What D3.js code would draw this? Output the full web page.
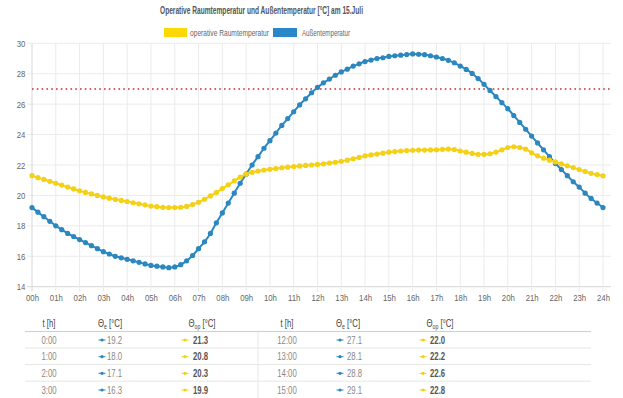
<!DOCTYPE html>
<html>
<head>
<meta charset="utf-8">
<script src="https://cdn.jsdelivr.net/npm/d3@7"></script>
<style>
  body { margin: 0; background: #fff; }
  svg { display: block; font-family: "Liberation Sans", Arial, sans-serif; }
</style>
</head>
<body>
<svg id="chart"></svg>
<script>
// quarter-hour steps 0 .. 24 h
const quarterHours = d3.range(0, 97).map((i) => i / 4);

const thetaE = [
  19.2, 18.9, 18.6, 18.3,
  18.0, 17.75, 17.5, 17.3,
  17.1, 16.9, 16.7, 16.5,
  16.3, 16.15, 16.0, 15.9,
  15.8, 15.7, 15.6, 15.5,
  15.4, 15.35, 15.3, 15.25,
  15.3, 15.45, 15.7, 16.05,
  16.5, 16.95, 17.5, 18.2,
  18.85, 19.5, 20.15, 20.8,
  21.4, 22.0, 22.55, 23.1,
  23.6, 24.1, 24.6, 25.05,
  25.5, 25.95, 26.35, 26.75,
  27.1, 27.4, 27.65, 27.9,
  28.12, 28.3, 28.5, 28.65,
  28.8, 28.9, 29.0, 29.05,
  29.14, 29.18, 29.22, 29.26,
  29.3, 29.28, 29.25, 29.18,
  29.1, 29.0, 28.88, 28.72,
  28.5, 28.28, 28.02, 27.68,
  27.3, 26.9, 26.5, 26.1,
  25.7, 25.25, 24.8, 24.35,
  23.9, 23.45, 23.0, 22.55,
  22.1, 21.7, 21.3, 20.9,
  20.55, 20.15, 19.8, 19.5,
  19.2
];

const thetaOp = [
  21.3, 21.17, 21.05, 20.93,
  20.8, 20.68, 20.55, 20.43,
  20.3, 20.2, 20.1, 20.0,
  19.9, 19.82, 19.74, 19.67,
  19.6, 19.52, 19.45, 19.38,
  19.3, 19.26, 19.22, 19.2,
  19.2, 19.22, 19.28, 19.4,
  19.55, 19.75, 19.97, 20.2,
  20.45, 20.7, 20.95, 21.2,
  21.4, 21.52, 21.6, 21.67,
  21.72, 21.77, 21.82, 21.86,
  21.9, 21.94, 21.97, 22.0,
  22.04, 22.08, 22.13, 22.18,
  22.24, 22.32, 22.41, 22.5,
  22.6, 22.66, 22.72, 22.78,
  22.84, 22.88, 22.92, 22.95,
  22.97, 22.98, 22.98, 22.99,
  23.0, 23.03, 23.05, 23.02,
  22.92, 22.84, 22.76, 22.7,
  22.7, 22.74, 22.85, 23.0,
  23.15, 23.2, 23.15, 23.05,
  22.8, 22.6, 22.45, 22.32,
  22.2, 22.07, 21.95, 21.83,
  21.7, 21.58, 21.45, 21.37,
  21.29
];

const yTicks = [14, 16, 18, 20, 22, 24, 26, 28, 30];
const xTicks = d3.range(0, 25);
const comfortLimit = 27;
const tableHoursLeft = [0, 1, 2, 3];
const tableHoursRight = [12, 13, 14, 15];

const colorE = "#2b87c0";
const colorOp = "#f4d116";

const svg = d3.select("#chart").attr("width", 623).attr("height", 398);

const x = d3.scaleLinear().domain([0, 24]).range([32, 603]);
const y = d3.scaleLinear().domain([14, 30]).range([286.7, 43.3]);
const gridRight = 611;

// title
svg.append("text")
  .attr("x", 261.5).attr("y", 13.5)
  .attr("text-anchor", "middle")
  .attr("textLength", 203).attr("lengthAdjust", "spacingAndGlyphs")
  .style("font-size", "10px").style("font-weight", "bold").style("fill", "#555")
  .text("Operative Raumtemperatur und Außentemperatur [°C] am 15.Juli");

// legend
const legendItems = [
  { label: "operative Raumtemperatur", color: "#fcd804", bx: 164, bw: 23, tx: 190, tw: 79 },
  { label: "Außentemperatur", color: "#2a88c8", bx: 273, bw: 24, tx: 302, tw: 48 }
];
legendItems.forEach((d) => {
  svg.append("rect")
    .attr("x", d.bx).attr("y", 28).attr("width", d.bw).attr("height", 9)
    .attr("fill", d.color);
  svg.append("text")
    .attr("x", d.tx).attr("y", 36)
    .attr("textLength", d.tw).attr("lengthAdjust", "spacingAndGlyphs")
    .style("font-size", "9.5px").style("fill", "#666")
    .text(d.label);
});

// grid
const grid = svg.append("g");
grid.selectAll(".hgrid")
  .data(yTicks)
  .enter()
  .append("line")
  .attr("x1", 27).attr("x2", gridRight)
  .attr("y1", (d) => y(d)).attr("y2", (d) => y(d))
  .attr("stroke", (d) => (d === 14 ? "#d6d6d6" : "#ebebeb"))
  .attr("stroke-width", 1);
grid.selectAll(".vgrid")
  .data(xTicks)
  .enter()
  .append("line")
  .attr("x1", (d) => x(d)).attr("x2", (d) => x(d))
  .attr("y1", 43.3).attr("y2", 291.7)
  .attr("stroke", (d) => (d === 0 ? "#d6d6d6" : "#ebebeb"))
  .attr("stroke-width", 1);

// axes (labels only, gridlines drawn above)
const yAxis = svg.append("g")
  .attr("transform", "translate(32,0)")
  .call(d3.axisLeft(y).tickValues(yTicks).tickSize(0).tickPadding(8));
yAxis.select(".domain").remove();
yAxis.selectAll("text")
  .attr("transform", "scale(0.82,1)")
  .style("font-size", "9.5px").style("fill", "#666")
  .style("font-family", "'Liberation Sans', Arial, sans-serif");

const xAxis = svg.append("g")
  .attr("transform", "translate(0,286.7)")
  .call(d3.axisBottom(x).tickValues(xTicks).tickSize(0)
    .tickPadding(8).tickFormat((d) => String(d).padStart(2, "0") + "h"));
xAxis.select(".domain").remove();
xAxis.selectAll("text")
  .attr("transform", "scale(0.82,1)")
  .style("font-size", "9.5px").style("fill", "#666")
  .style("font-family", "'Liberation Sans', Arial, sans-serif");

// 27 °C limit
svg.append("line")
  .attr("x1", x(0)).attr("x2", gridRight)
  .attr("y1", y(comfortLimit)).attr("y2", y(comfortLimit))
  .attr("stroke", "#c9302c").attr("stroke-width", 1.4)
  .attr("stroke-dasharray", "1.6,3.2");

// series
const line = d3.line()
  .x((d, i) => x(quarterHours[i]))
  .y((d) => y(d))
  .curve(d3.curveMonotoneX);

[{ values: thetaE, color: colorE }, { values: thetaOp, color: colorOp }].forEach((s) => {
  svg.append("path")
    .datum(s.values)
    .attr("d", line)
    .attr("fill", "none")
    .attr("stroke", s.color)
    .attr("stroke-width", 2);
  svg.append("g")
    .selectAll("circle")
    .data(s.values)
    .enter()
    .append("circle")
    .attr("cx", (d, i) => x(quarterHours[i]))
    .attr("cy", (d) => y(d))
    .attr("r", 2.6)
    .attr("fill", s.color);
});

// table
const table = svg.append("g")
  .style("font-family", "'Liberation Sans', Arial, sans-serif");

table.append("line")
  .attr("x1", 25).attr("x2", 591).attr("y1", 331.5).attr("y2", 331.5)
  .attr("stroke", "#cfcfcf").attr("stroke-width", 1.2);
[348, 364.6, 381.2].forEach((ly) => {
  table.append("line")
    .attr("x1", 25).attr("x2", 591).attr("y1", ly).attr("y2", ly)
    .attr("stroke", "#e6e6e6").attr("stroke-width", 1);
});
table.append("line")
  .attr("x1", 258).attr("x2", 258).attr("y1", 332).attr("y2", 398)
  .attr("stroke", "#e6e6e6").attr("stroke-width", 1);

const squeeze = (sel, cx, cy) =>
  sel.attr("transform", `translate(${cx},${cy}) scale(0.74,1)`);

const header = (cx, base, sub) => {
  const t = table.append("text")
    .attr("text-anchor", "middle")
    .style("font-size", "10.5px").style("fill", "#444");
  squeeze(t, cx, 326.5);
  t.append("tspan").text(base);
  if (sub) {
    t.append("tspan").attr("dy", 2).style("font-size", "7px").text(sub);
    t.append("tspan").attr("dy", -2).text(" [°C]");
  }
};

const halves = [
  { hours: tableHoursLeft, tx: 49, ex: 110, opx: 202, emk: 102, etx: 107, omk: 185, otx: 193 },
  { hours: tableHoursRight, tx: 287, ex: 348, opx: 440, emk: 340, etx: 347, omk: 423, otx: 430 }
];

const rowY = [343.5, 360.2, 376.8, 393.5];

halves.forEach((h) => {
  header(h.tx, "t [h]");
  header(h.ex, "Θ", "e");
  header(h.opx, "Θ", "op");

  h.hours.forEach((hr, r) => {
    const ry = rowY[r];
    squeeze(table.append("text"), h.tx, ry)
      .attr("text-anchor", "middle")
      .style("font-size", "10.5px").style("fill", "#888")
      .text(hr + ":00");

    [{ mk: h.emk, tx: h.etx, color: colorE, v: thetaE[hr * 4], bold: false },
     { mk: h.omk, tx: h.otx, color: colorOp, v: thetaOp[hr * 4], bold: true }].forEach((c) => {
      table.append("line")
        .attr("x1", c.mk - 3.5).attr("x2", c.mk + 3.5)
        .attr("y1", ry - 3.5).attr("y2", ry - 3.5)
        .attr("stroke", c.color).attr("stroke-width", 1);
      table.append("circle")
        .attr("cx", c.mk).attr("cy", ry - 3.5).attr("r", 1.6)
        .attr("fill", c.color);
      squeeze(table.append("text"), c.tx, ry)
        .style("font-size", "10.5px")
        .style("font-weight", c.bold ? "bold" : "normal")
        .style("fill", c.bold ? "#555" : "#888")
        .text(c.v.toFixed(1));
    });
  });
});
</script>
</body>
</html>
